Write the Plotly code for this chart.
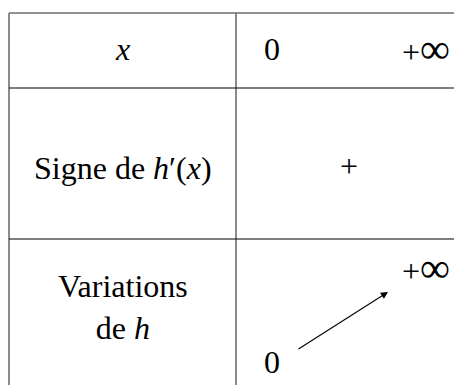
import plotly.graph_objects as go

# tableau de variations de h
var_name = "x"
x_values = ["0", "+∞"]
row_labels = ["Signe de <i>h</i>′(<i>x</i>)", "Variations<br>de <i>h</i>"]
signs = ["+"]
h_values = ["0", "+∞"]
h_levels = ["low", "high"]

W, H = 454, 385
font = dict(family="Liberation Serif", size=32, color="black")
gray = "#6e6e6e"


def fmt(t):
    # le symbole infini est petit dans cette police
    return t.replace("∞", "<span style='font-size:42px'>∞</span>")


fig = go.Figure()
fig.add_trace(go.Scatter(x=[0, W], y=[0, H], mode="markers",
                         marker=dict(opacity=0), hoverinfo="skip", showlegend=False))

# grille
left, mid, top = 9, 236, 13
row_y = [88, 239]
shapes = [
    dict(type="line", x0=left, x1=left, y0=top, y1=H + 5, line=dict(color=gray, width=1.6)),
    dict(type="line", x0=mid, x1=mid, y0=top, y1=H + 5, line=dict(color=gray, width=1.6)),
    dict(type="line", x0=left, x1=W + 5, y0=top, y1=top, line=dict(color=gray, width=1.6)),
]
for yy in row_y:
    shapes.append(dict(type="line", x0=left, x1=W + 5, y0=yy, y1=yy, line=dict(color="black", width=1.2)))

ann = []
# premiere ligne
ann.append(dict(x=(left + mid) / 2, y=49, text="<i>" + var_name + "</i>"))
x_pos = [272, 426]
for xp, t in zip(x_pos, x_values):
    ann.append(dict(x=xp, y=49, text=fmt(t)))

# libellés
ann.append(dict(x=(left + mid) / 2, y=168, text=row_labels[0]))
ann.append(dict(x=(left + mid) / 2, y=307, text=row_labels[1]))

# signe
for i, s in enumerate(signs):
    ann.append(dict(x=(x_pos[i] + x_pos[i + 1]) / 2, y=166, text=s))

# variations
lvl_y = {"low": 362, "high": 268}
for xp, t, l in zip(x_pos, h_values, h_levels):
    ann.append(dict(x=xp, y=lvl_y[l], text=fmt(t)))

for a in ann:
    a.update(xref="x", yref="y", showarrow=False, font=font)

# fleche
fig.add_annotation(x=388, y=292, ax=297, ay=350, xref="x", yref="y", axref="x", ayref="y",
                   text="", showarrow=True, arrowhead=2, arrowsize=1.3, arrowwidth=1.1,
                   arrowcolor="black", standoff=0, startstandoff=0)

fig.update_layout(
    width=W, height=H,
    margin=dict(l=0, r=0, t=0, b=0),
    paper_bgcolor="white", plot_bgcolor="white",
    xaxis=dict(range=[0, W], visible=False, fixedrange=True),
    yaxis=dict(range=[H, 0], visible=False, fixedrange=True),
    shapes=shapes,
    annotations=list(fig.layout.annotations) + ann,
)

fig.write_html("out.html", config={"displayModeBar": False},
               post_script="document.body.style.margin='0px';document.body.style.overflow='hidden';")
